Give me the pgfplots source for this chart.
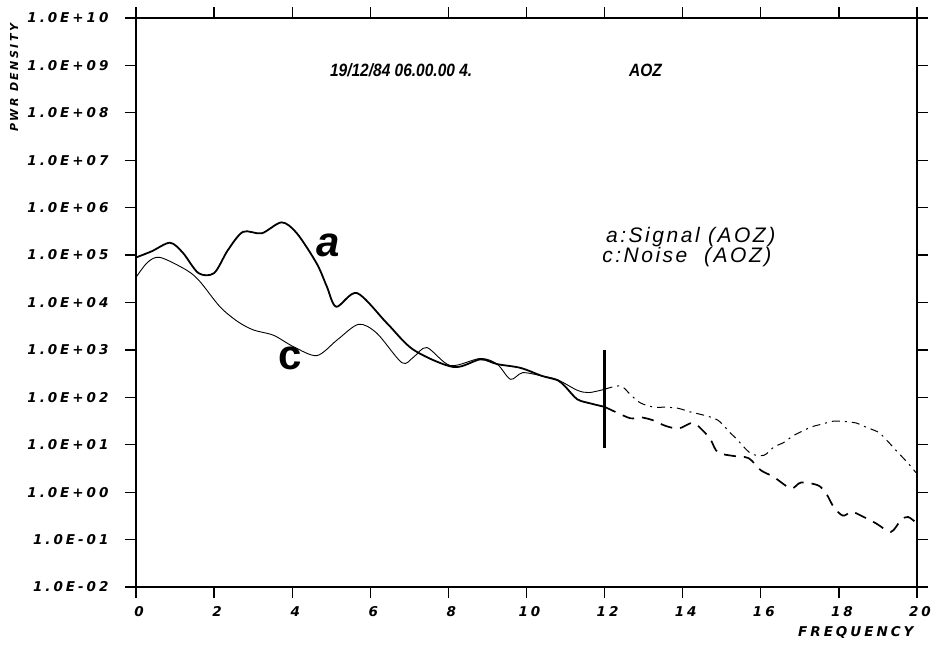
\documentclass[border=0pt]{standalone}
\usepackage{fontspec}
\usepackage{pgfplots}
\pgfplotsset{compat=1.18}
\newfontfamily\plotfont[LetterSpace=22]{DejaVu Sans}
\newfontfamily\titlefont{Liberation Sans}
\newfontfamily\legfont[LetterSpace=12]{Liberation Sans}
\begin{document}
\begin{tikzpicture}
\useasboundingbox (-136pt,-58pt) rectangle (798pt,587pt);
\begin{axis}[
  scale only axis, width=781pt, height=569pt,
  xmin=0, xmax=20, ymode=log, ymin=1e-2, ymax=1e10,
  axis line style={line width=1.2pt},
  tick align=outside, major tick length=11pt,
  tick style={line width=1.2pt, black},
  xtick={0,2,...,20},
  xticklabels={0,2,4,6,8,10,12,14,16,18,20},
  ytick={1e-2,1e-1,1,1e1,1e2,1e3,1e4,1e5,1e6,1e7,1e8,1e9,1e10},
  yticklabels={1.0E-02,1.0E-01,1.0E+00,1.0E+01,1.0E+02,1.0E+03,1.0E+04,1.0E+05,1.0E+06,1.0E+07,1.0E+08,1.0E+09,1.0E+10},
  minor tick num=0, yminorticks=false,
  ticklabel style={font=\plotfont\bfseries\itshape\fontsize{13.5}{15}\selectfont},
  xticklabel style={yshift=-5pt, xshift=3pt},
  yticklabel style={xshift=-13pt},
  clip=false,
]
% signal a (solid, up to 12)
\addplot[black, line width=1.8pt, smooth, tension=0.5] coordinates {
(0,89000) (0.4,120000) (0.87,182000) (1.2,112000) (1.6,41700) (2.0,41700)
(2.35,126000) (2.74,309000) (3.22,288000) (3.73,490000) (4.12,288000)
(4.63,66000) (4.89,21400) (5.13,8130) (5.66,15800) (6.43,3630) (7.11,1000)
(8.13,436) (8.82,631) (9.25,501) (9.85,417) (10.4,282) (10.8,229)
(11.0,166) (11.3,91) (11.65,74) (12,63)
};
% signal a dashed beyond 12
\addplot[black, line width=1.7pt, smooth, tension=0.5, dash pattern=on 12pt off 8pt] coordinates {
(12,63) (12.33,47) (12.67,36) (12.92,38) (13.23,33) (13.56,25) (13.9,22)
(14.26,29) (14.54,19) (14.72,12.6) (14.9,6.9) (15.3,5.8) (15.69,5.2)
(16.0,2.9) (16.33,2.1) (16.77,1.2) (17.03,1.6) (17.46,1.4) (17.67,0.95)
(17.87,0.48) (18.1,0.32) (18.3,0.38) (18.44,0.36) (18.95,0.22)
(19.33,0.145) (19.59,0.26) (19.77,0.30) (19.97,0.23)
};
% noise c (thin)
\addplot[black, line width=0.9pt, smooth, tension=0.5] coordinates {
(0,33900) (0.3,70800) (0.62,89100) (1.3,47900) (1.64,27500) (2.15,8130)
(2.6,3980) (3.01,2630) (3.52,2040) (4.03,1175) (4.63,759) (5.15,1620)
(5.70,3470) (6.17,2240) (6.81,537) (7.11,708) (7.45,1120) (8.05,468)
(8.82,661) (9.25,501) (9.59,240) (9.9,331) (10.4,282) (10.8,234)
(11.3,141) (11.6,126) (12,148)
};
% noise c dash-dot beyond 12
\addplot[black, line width=1pt, smooth, tension=0.5, dash pattern=on 8pt off 5pt on 2pt off 5pt] coordinates {
(12,148) (12.41,174) (12.67,112) (12.92,76) (13.26,62) (13.51,62) (13.87,59)
(14.2,49) (14.54,42) (14.9,33) (15.23,17.4) (15.36,13.8) (15.74,6.6)
(16.08,6.0) (16.33,8.9) (16.59,11.2) (16.85,15.8) (17.28,23.4) (17.54,26.9)
(17.87,31.6) (18.05,31.6) (18.44,28.8) (18.64,24.5) (19.0,18.6)
(19.15,14.5) (19.41,8.5) (19.51,6.9) (19.77,4.1) (19.97,2.6)
};
% vertical bar at 12
\addplot[black, line width=2.6pt] coordinates {(12,1000) (12,8.5)};
% texts
\node[font=\titlefont\bfseries\itshape\fontsize{15.5}{17}\selectfont, yscale=1.15, transform shape] at (axis cs:6.79,7.9e8) {19/12/84 06.00.00 4.};
\node[font=\titlefont\bfseries\itshape\fontsize{15.5}{17}\selectfont, yscale=1.15, transform shape] at (axis cs:13.05,7.9e8) {AOZ};
\node[anchor=west, font=\legfont\itshape\fontsize{21}{23}\selectfont] at (axis cs:11.95,240000) {a:Signal (AOZ)};
\node[anchor=west, font=\legfont\itshape\fontsize{21}{23}\selectfont] at (axis cs:11.85,91000) {c:Noise\ \ (AOZ)};
\node[font=\titlefont\bfseries\itshape\fontsize{42}{44}\selectfont] at (axis cs:4.92,162000) {a};
\node[font=\titlefont\bfseries\fontsize{42}{44}\selectfont] at (axis cs:3.95,676) {c};
\node[anchor=east, font=\plotfont\bfseries\itshape\fontsize{13.5}{15}\selectfont] at ([yshift=-45pt]rel axis cs:1,0) {FREQUENCY};
\node[rotate=90, font=\plotfont\bfseries\itshape\fontsize{11}{13}\selectfont] at ([xshift=-122pt]rel axis cs:0,0.895) {PWR DENSITY};
\end{axis}
\end{tikzpicture}
\end{document}
